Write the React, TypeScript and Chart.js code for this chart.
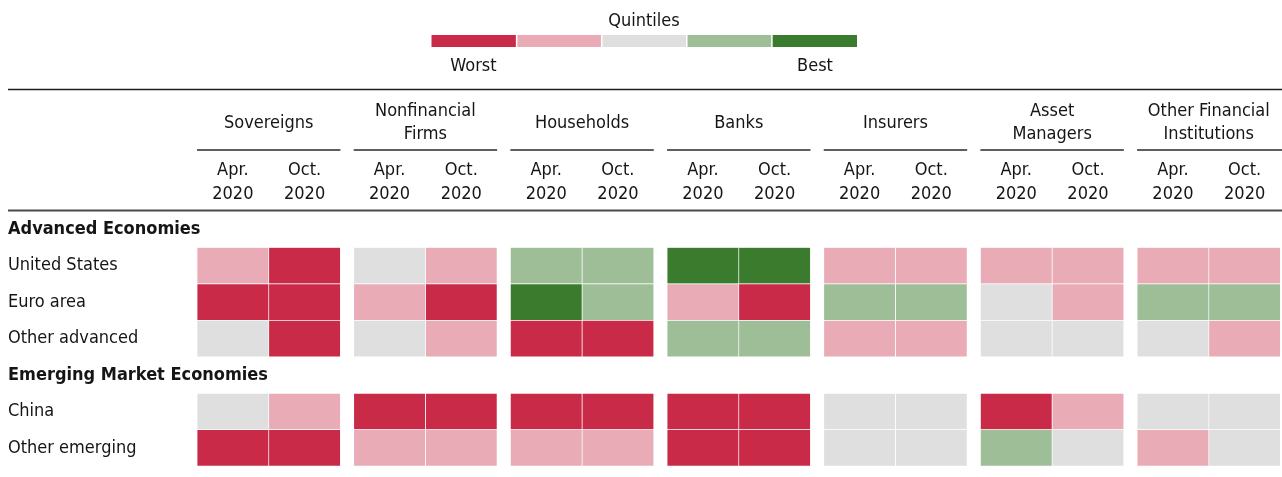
import React, { useEffect, useRef } from "react";
import { Chart, registerables } from "chart.js";

Chart.register(...registerables);

// ---------- data ----------
const ROWS = [
  "Advanced Economies",
  "United States",
  "Euro area",
  "Other advanced",
  "Emerging Market Economies",
  "China",
  "Other emerging",
];
const HEADER_ROWS = [0, 4];

const SECTORS = [
  ["Sovereigns"],
  ["Nonfinancial", "Firms"],
  ["Households"],
  ["Banks"],
  ["Insurers"],
  ["Asset", "Managers"],
  ["Other Financial", "Institutions"],
];
const PERIODS = [
  ["Apr.", "2020"],
  ["Oct.", "2020"],
];

// quintile per row (1 = worst, 5 = best); null for section header rows
const sovereignsApr = [null, 2, 1, 3, null, 3, 1];
const sovereignsOct = [null, 1, 1, 1, null, 2, 1];
const nonfinancialApr = [null, 3, 2, 3, null, 1, 2];
const nonfinancialOct = [null, 2, 1, 2, null, 1, 2];
const householdsApr = [null, 4, 5, 1, null, 1, 2];
const householdsOct = [null, 4, 4, 1, null, 1, 2];
const banksApr = [null, 5, 2, 4, null, 1, 1];
const banksOct = [null, 5, 1, 4, null, 1, 1];
const insurersApr = [null, 2, 4, 2, null, 3, 3];
const insurersOct = [null, 2, 4, 2, null, 3, 3];
const assetManagersApr = [null, 2, 3, 3, null, 1, 4];
const assetManagersOct = [null, 2, 2, 3, null, 2, 3];
const otherFinancialApr = [null, 2, 4, 3, null, 3, 2];
const otherFinancialOct = [null, 2, 4, 2, null, 3, 3];

const SECTOR_VALUES = [
  [sovereignsApr, sovereignsOct],
  [nonfinancialApr, nonfinancialOct],
  [householdsApr, householdsOct],
  [banksApr, banksOct],
  [insurersApr, insurersOct],
  [assetManagersApr, assetManagersOct],
  [otherFinancialApr, otherFinancialOct],
];

const QUINTILE_COLORS = ["#C92A47", "#E9ACB7", "#DEDFDE", "#9DBE96", "#3A7B2D"];
const LEGEND_TITLE = "Quintiles";
const LEGEND_LOW = "Worst";
const LEGEND_HIGH = "Best";

// ---------- layout constants ----------
const GROUP_PITCH = 2.185; // 2 cells + gap, in cell units
const LABEL_COLUMN = 2.636; // width of the row-label column, in cell units
const FONT = '"DejaVu Sans Condensed", "Liberation Sans Narrow", sans-serif';
const FS = 18;
const TEXT = "#151515";

export default function App() {
  const ref = useRef<HTMLCanvasElement | null>(null);

  useEffect(() => {
    document.body.style.margin = "0";
    const canvas = ref.current;
    if (!canvas) return;

    const datasets: any[] = [];
    SECTOR_VALUES.forEach((pair, k) => {
      pair.forEach((vals, p) => {
        const start = k * GROUP_PITCH + p;
        datasets.push({
          label: SECTORS[k].join(" ") + " " + PERIODS[p].join(" "),
          data: vals.map((v) => (v == null ? null : [start, start + 1])),
          backgroundColor: vals.map((v) => (v == null ? "rgba(0,0,0,0)" : QUINTILE_COLORS[v - 1])),
          borderColor: "#ffffff",
          borderWidth: 0.7,
          borderSkipped: false,
          grouped: false,
          categoryPercentage: 1,
          barPercentage: 1,
        });
      });
    });

    const headerPlugin = {
      id: "headers",
      afterDraw(chart: any) {
        const ctx = chart.ctx;
        const x = chart.scales.x;
        ctx.save();
        ctx.fillStyle = TEXT;
        ctx.textAlign = "center";
        ctx.textBaseline = "alphabetic";
        ctx.font = `${FS}px ${FONT}`;

        // legend
        ctx.fillText(LEGEND_TITLE, 644, 26);
        const lx0 = 431.5, lx1 = 857, n = QUINTILE_COLORS.length;
        const sw = (lx1 - lx0) / n;
        QUINTILE_COLORS.forEach((c, i) => {
          ctx.fillStyle = c;
          ctx.fillRect(lx0 + i * sw + (i ? 0.75 : 0), 35, sw - (i ? 0.75 : 0) - (i < n - 1 ? 0.75 : 0), 12);
        });
        ctx.fillStyle = TEXT;
        ctx.fillText(LEGEND_LOW, 473.5, 70.5);
        ctx.fillText(LEGEND_HIGH, 815, 70.5);

        // top rule
        ctx.strokeStyle = "#1e1e1e";
        ctx.lineWidth = 1.3;
        ctx.beginPath();
        ctx.moveTo(8, 89.5);
        ctx.lineTo(1282, 89.5);
        ctx.stroke();

        // sector headers
        SECTORS.forEach((lines, k) => {
          const s = k * GROUP_PITCH;
          const cx = x.getPixelForValue(s + 1);
          if (lines.length === 1) {
            ctx.fillText(lines[0], cx, 128.3);
          } else {
            ctx.fillText(lines[0], cx, 116);
            ctx.fillText(lines[1], cx, 139.2);
          }
          ctx.strokeStyle = "#2a2a2a";
          ctx.lineWidth = 1.5;
          ctx.beginPath();
          ctx.moveTo(x.getPixelForValue(s), 150);
          ctx.lineTo(k === SECTORS.length - 1 ? 1282 : x.getPixelForValue(s + 2), 150);
          ctx.stroke();
          PERIODS.forEach((pl, p) => {
            const px = x.getPixelForValue(s + p + 0.5);
            ctx.fillText(pl[0], px, 175);
            ctx.fillText(pl[1], px, 198.5);
          });
        });

        // header bottom rule
        ctx.strokeStyle = "#4a4a4a";
        ctx.lineWidth = 2;
        ctx.beginPath();
        ctx.moveTo(8, 210.5);
        ctx.lineTo(1282, 210.5);
        ctx.stroke();
        ctx.restore();
      },
    };

    const chart = new Chart(canvas, {
      type: "bar",
      data: { labels: ROWS, datasets },
      options: {
        indexAxis: "y",
        animation: false,
        responsive: true,
        maintainAspectRatio: false,
        layout: { padding: { top: 211, bottom: 7.5, left: 8, right: 1.5 } },
        plugins: { legend: { display: false }, tooltip: { enabled: false } },
        scales: {
          x: {
            type: "linear",
            min: -LABEL_COLUMN,
            max: (SECTORS.length - 1) * GROUP_PITCH + 2,
            display: false,
            grid: { display: false },
          },
          y: {
            type: "category",
            offset: true,
            grid: { display: false },
            border: { display: false },
            afterFit: (scale: any) => {
              scale.width = 0;
            },
            ticks: {
              mirror: true,
              crossAlign: "near",
              padding: 0,
              color: TEXT,
              font: (c: any) => ({
                family: FONT,
                size: FS,
                weight: HEADER_ROWS.includes(c.index) ? "bold" : "normal",
              }),
            },
          },
        },
      },
      plugins: [headerPlugin],
    });

    return () => chart.destroy();
  }, []);

  return (
    <div style={{ position: "relative", width: 1282, height: 477 }}>
      <canvas ref={ref} />
    </div>
  );
}
